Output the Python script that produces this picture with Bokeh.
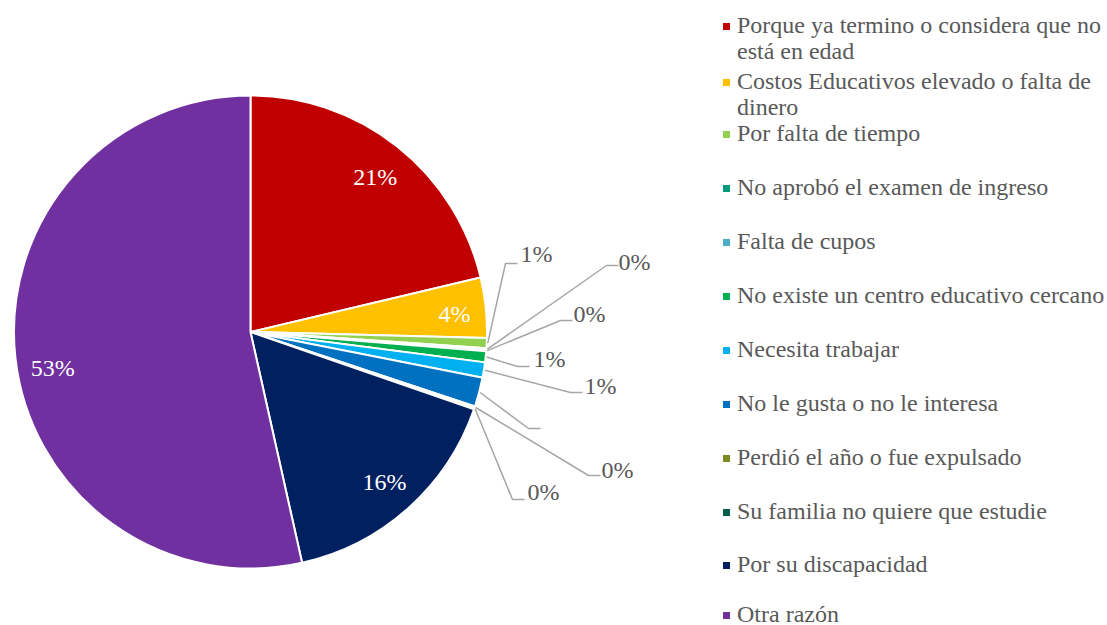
import numpy as np
from bokeh.plotting import figure
from bokeh.models import Range1d, ColumnDataSource
from bokeh.core.properties import value
from bokeh.embed import file_html
from bokeh.resources import INLINE

# ---------------- data ----------------
categories = [
    "Porque ya termino o considera que no\nestá en edad",
    "Costos Educativos elevado o falta de\ndinero",
    "Por falta de tiempo",
    "No aprobó el examen de ingreso",
    "Falta de cupos",
    "No existe un centro educativo cercano",
    "Necesita trabajar",
    "No le gusta o no le interesa",
    "Perdió el año o fue expulsado",
    "Su familia no quiere que estudie",
    "Por su discapacidad",
    "Otra razón",
]
percent_values = [21.3, 4.1, 0.7, 0.1, 0.1, 0.75, 1.05, 2.0, 0.1, 0.1, 16.2, 53.5]
label_texts = ["21%", "4%", "1%", "0%", "0%", "1%", "1%", "", "0%", "0%", "16%", "53%"]
colors = ["#C00000", "#FFC000", "#92D050", "#009A7C", "#4BACC6", "#00B050",
          "#00B0F0", "#0070C0", "#7E8B23", "#00604B", "#002060", "#7030A0"]
label_inside = [True, True, False, False, False, False, False, False, False, False, True, True]

# ---------------- layout (screen pixels) ----------------
W, H = 1107, 625


def sy(y):
    return H - y


CX, CY, R = 250.0, sy(331.5), 236.5
INSIDE_FRAC = 0.85
inside_nudge = {0: (0, 3), 1: (4, 3), 11: (2, 14)}   # screen px (dx, dy down)
# outside labels: elbow x, elbow y, text x, text visual-centre y  (screen)
outside_layout = {
    2: (505, 263, 520, 253),
    3: (606, 265, 618, 261),
    4: (560, 320, 573, 313),
    5: (517, 366, 533, 358),
    6: (570, 392, 584, 385),
    7: (528, 428, 540, 421),
    8: (588, 475, 601, 469),
    9: (512, 499, 527, 491),
}
legend_centres = [24, 80, 132, 186, 240, 294, 348, 402, 456, 510, 563, 613]
LEG_MARK_X, LEG_MARK_DY, LEG_TEXT_X, LEG_LINE = 726, 2, 736.5, 26

FONT = value("Liberation Serif")
GREY = "#595959"

p = figure(width=W, height=H, output_backend="svg", toolbar_location=None,
           x_range=Range1d(0, W), y_range=Range1d(0, H),
           x_axis_location=None, y_axis_location=None, min_border=0,
           outline_line_color=None, background_fill_color="white",
           border_fill_color="white")
p.grid.visible = False

vals = np.array(percent_values, dtype=float)
frac = vals / vals.sum()
cum = np.concatenate([[0.0], np.cumsum(frac)])
start = np.pi / 2 - 2 * np.pi * cum[:-1]
end = np.pi / 2 - 2 * np.pi * cum[1:]
mid = (start + end) / 2

src = ColumnDataSource(dict(start=start, end=end, color=colors))
p.wedge(x=CX, y=CY, radius=R, start_angle="start", end_angle="end",
        direction="clock", fill_color="color", line_color="white",
        line_width=2, source=src)

# inside labels
ix, iy, it = [], [], []
for i, inside in enumerate(label_inside):
    if inside:
        dx, dy = inside_nudge.get(i, (0, 0))
        ix.append(CX + INSIDE_FRAC * R * np.cos(mid[i]) + dx)
        iy.append(CY + INSIDE_FRAC * R * np.sin(mid[i]) - dy)
        it.append(label_texts[i])
p.text(x=ix, y=iy, text=it, text_font=FONT, text_font_size="24px",
       text_color="white", text_align="center", text_baseline="middle")

# outside labels with leader lines
lxs, lys, tx, ty, tt = [], [], [], [], []
for i, (ex, ey, txx, tyy) in outside_layout.items():
    x0 = CX + (R + 1) * np.cos(mid[i])
    y0 = CY + (R + 1) * np.sin(mid[i])
    lxs.append([x0, ex, ex + 12])
    lys.append([y0, sy(ey), sy(ey)])
    tx.append(txx)
    ty.append(sy(tyy))
    tt.append(label_texts[i])
p.multi_line(xs=lxs, ys=lys, line_color="#A6A6A6", line_width=1.5)
p.text(x=tx, y=ty, text=tt, text_font=FONT, text_font_size="24px",
       text_color=GREY, text_align="left", text_baseline="middle")

# legend
mx, my, gx, gy, gt = [], [], [], [], []
for i, cat in enumerate(categories):
    c = legend_centres[i]
    mx.append(LEG_MARK_X)
    my.append(sy(c + LEG_MARK_DY))
    for k, line in enumerate(cat.split("\n")):
        gx.append(LEG_TEXT_X)
        gy.append(sy(c + k * LEG_LINE))
        gt.append(line)
p.rect(x=mx, y=my, width=7, height=7, fill_color=colors, line_color=None)
p.text(x=gx, y=gy, text=gt, text_font=FONT, text_font_size="24px",
       text_color=GREY, text_align="left", text_baseline="middle")

open("out.html", "w").write(file_html(p, INLINE))
